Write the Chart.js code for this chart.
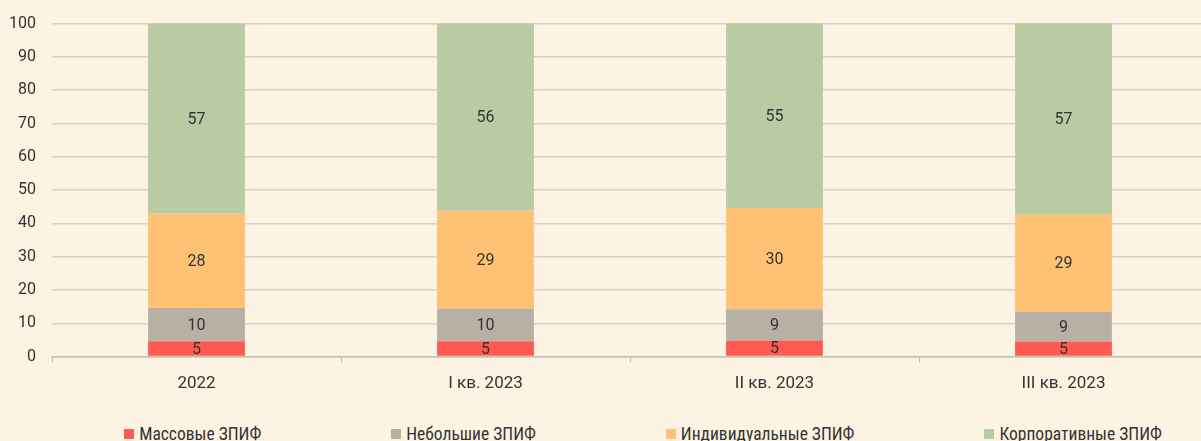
<!DOCTYPE html>
<html lang="ru">
<head>
<meta charset="utf-8">
<script src="https://cdn.jsdelivr.net/npm/chart.js@4.4.1/dist/chart.umd.min.js"></script>
<style>
  html, body { margin: 0; padding: 0; background: #fdf3e3; overflow: hidden; }
  #wrap { position: relative; width: 1208px; height: 441px; overflow: hidden; }
  #box { position: absolute; left: 0; top: -2px; width: 1208px; height: 417px; }
  #legend {
    position: absolute; left: 63px; top: 424px; width: 1160px;
    display: flex; justify-content: center; gap: 130px;
    font: 17.5px "Liberation Sans Narrow", "Roboto Condensed", Roboto, sans-serif; color: #333;
  }
  #legend span.item { display: flex; align-items: center; white-space: nowrap; }
  #legend i { display: inline-block; width: 10px; height: 10px; margin-right: 5px; }
</style>
</head>
<body>
<div id="wrap">
  <div id="box"><canvas id="chart"></canvas></div>
  <div id="legend"></div>
</div>
<script>
  const periods = ["2022", "I кв. 2023", "II кв. 2023", "III кв. 2023"];
  const seriesNames = ["Массовые ЗПИФ", "Небольшие ЗПИФ", "Индивидуальные ЗПИФ", "Корпоративные ЗПИФ"];
  const massValues = [4.6, 4.6, 4.8, 4.5];
  const smallValues = [10.0, 9.8, 9.4, 9.0];
  const individualValues = [28.3, 29.4, 30.4, 29.1];
  const corporateValues = [57.1, 56.2, 55.4, 57.4];
  const yTicks = [0, 10, 20, 30, 40, 50, 60, 70, 80, 90, 100];
  const colors = ["#ff5a52", "#b8b0a4", "#ffc275", "#b8cba3"];

  const seriesValues = [massValues, smallValues, individualValues, corporateValues];

  // labels in the middle of each segment
  const segmentLabels = {
    id: "segmentLabels",
    afterDatasetsDraw(chart) {
      const ctx = chart.ctx;
      ctx.save();
      ctx.font = "16px Roboto, sans-serif";
      ctx.fillStyle = "#333";
      ctx.textAlign = "center";
      ctx.textBaseline = "middle";
      chart.data.datasets.forEach((ds, i) => {
        chart.getDatasetMeta(i).data.forEach((bar, j) => {
          ctx.fillText(Math.round(ds.data[j]), bar.x, (bar.y + bar.base) / 2 + 1);
        });
      });
      ctx.restore();
    }
  };

  new Chart(document.getElementById("chart"), {
    type: "bar",
    data: {
      labels: periods,
      datasets: seriesNames.map((name, i) => ({
        label: name,
        data: seriesValues[i],
        backgroundColor: colors[i],
        barPercentage: 0.335,
        categoryPercentage: 1
      }))
    },
    options: {
      responsive: true,
      maintainAspectRatio: false,
      animation: false,
      layout: { padding: { top: 13, bottom: 10, left: 0, right: 0 } },
      plugins: {
        legend: { display: false },
        tooltip: { enabled: false }
      },
      scales: {
        x: {
          stacked: true,
          grid: { drawOnChartArea: false, drawTicks: true, tickLength: 6, color: "#c8c0b6" },
          border: { color: "#c8c0b6", width: 1.5 },
          ticks: { color: "#333", font: { family: "Roboto", size: 17 }, padding: 11 }
        },
        y: {
          stacked: true,
          min: 0,
          max: 100,
          afterFit: (scale) => { scale.width = 52; },
          afterBuildTicks: (scale) => { scale.ticks = yTicks.map((v) => ({ value: v })); },
          grid: { color: "#d9cfc4", lineWidth: 1.5, drawTicks: false },
          border: { display: false },
          ticks: { color: "#333", font: { family: "Roboto", size: 16 }, padding: 16 }
        }
      }
    },
    plugins: [segmentLabels]
  });

  // legend row under the chart
  const legend = document.getElementById("legend");
  seriesNames.forEach((name, i) => {
    const item = document.createElement("span");
    item.className = "item";
    item.innerHTML = '<i style="background:' + colors[i] + '"></i>' + name;
    legend.appendChild(item);
  });
</script>
</body>
</html>
